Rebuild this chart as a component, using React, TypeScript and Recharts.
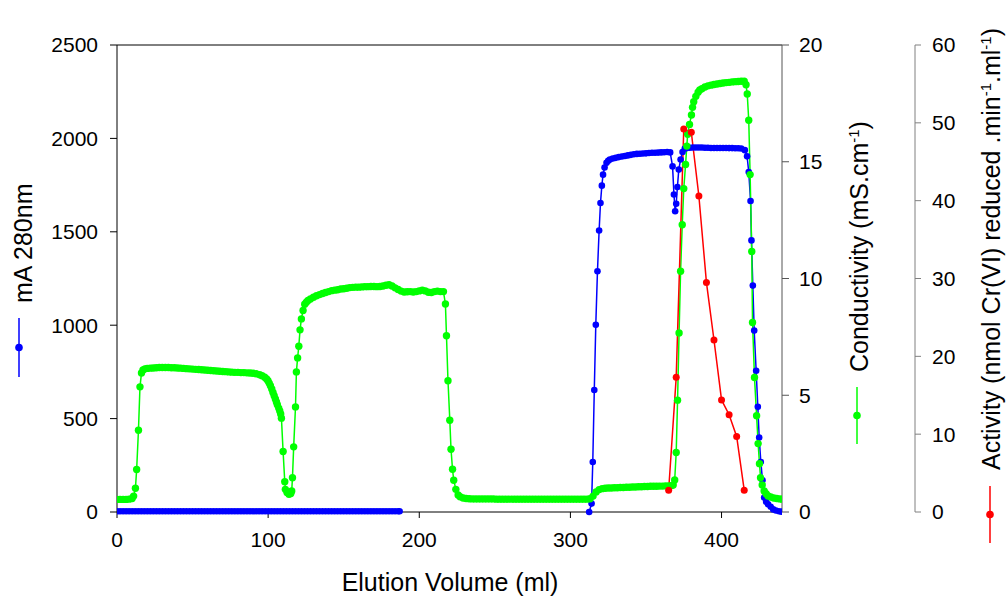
import { ComposedChart, Line, XAxis, YAxis, ReferenceLine } from "recharts";

const BLUE = "#0000ff";
const GREEN = "#00ff00";
const RED = "#ff0000";
const FONT = "'Liberation Sans', Arial, sans-serif";

// mA 280nm, first run (baseline)
const uvVolumeA = [
   0, 2, 4, 6, 8, 10, 12, 14, 16, 18, 20, 22, 24, 26, 28, 30, 32, 34, 36, 38,
   40, 42, 44, 46, 48, 50, 52, 54, 56, 58, 60, 62, 64, 66, 68, 70, 72, 74, 76, 78,
   80, 82, 84, 86, 88, 90, 92, 94, 96, 98, 100, 102, 104, 106, 108, 110, 112, 114, 116, 118,
   120, 122, 124, 126, 128, 130, 132, 134, 136, 138, 140, 142, 144, 146, 148, 150, 152, 154, 156, 158,
   160, 162, 164, 166, 168, 170, 172, 174, 176, 178, 180, 182, 184, 186, 187,
];
const uvAbsA = [
   4, 4, 4, 4, 4, 4, 4, 4, 4, 4, 4, 4, 4, 4, 4, 4, 4, 4, 4, 4,
   4, 4, 4, 4, 4, 4, 4, 4, 4, 4, 4, 4, 4, 4, 4, 4, 4, 4, 4, 4,
   4, 4, 4, 4, 4, 4, 4, 4, 4, 4, 4, 4, 4, 4, 4, 4, 4, 4, 4, 4,
   4, 4, 4, 4, 4, 4, 4, 4, 4, 4, 4, 4, 4, 4, 4, 4, 4, 4, 4, 4,
   4, 4, 4, 4, 4, 4, 4, 4, 4, 4, 4, 4, 4, 4, 4,
];

// mA 280nm, second run
const uvVolumeB = [
   312.4, 314, 314.8, 315.8, 316.8, 317.9, 319, 319.9, 320.8, 321.6, 322.6, 323.9, 325, 326.1, 328, 330, 332, 334, 336, 338,
   340, 342, 344, 346, 348, 350, 352, 354, 356, 358, 360, 362, 364, 366, 367.6, 368.5, 369.3, 370, 370.8, 371.7,
   372.9, 374.2, 375.7, 377, 379, 381, 383, 385, 387, 389, 391, 393, 395, 397, 399, 401, 403, 405, 407, 409,
   411, 413, 415.4, 416.9, 418, 419.2, 419.8, 420.7, 421.6, 422.9, 424, 424.9, 426, 427.1, 428.2, 429.5, 430.8, 432.5, 434.2, 436,
   438, 439.7,
];
const uvAbsB = [
   0, 45, 268, 653, 1002, 1289, 1507, 1654, 1747, 1806, 1844, 1869, 1880, 1887, 1892, 1896, 1900, 1903, 1906, 1909,
   1912, 1915, 1917, 1918, 1919, 1920, 1922, 1923, 1923, 1924, 1925, 1926, 1927, 1925, 1850, 1700, 1610, 1650, 1740, 1833,
   1887, 1927, 1946, 1948, 1950, 1951, 1951, 1951, 1951, 1950, 1950, 1949, 1949, 1949, 1949, 1949, 1949, 1948, 1948, 1947,
   1947, 1946, 1937, 1904, 1820, 1665, 1454, 1212, 971, 756, 563, 399, 268, 170, 77, 55, 41, 28, 14, 8,
   4, 2,
];

// Conductivity (mS/cm)
const condVolume = [
   0, 2, 4, 6, 8, 10, 11, 12.2, 13, 14.2, 15.2, 16.2, 17.2, 18.5, 20, 22, 24, 26, 28, 30,
   32, 34, 36, 38, 40, 42, 44, 46, 48, 50, 52, 54, 56, 58, 60, 62, 64, 66, 68, 70,
   72, 74, 76, 78, 80, 82, 84, 86, 88, 90, 92, 94.4, 96, 97.7, 99, 99.9, 100.7, 101.5, 102.4, 103.2,
   104, 104.8, 105.5, 106.1, 107, 107.7, 108.3, 108.8, 109.9, 111, 111.4, 112.5, 113.8, 115, 115.6, 116.1, 116.9, 118.1, 118.7, 119.5,
   120.3, 121.1, 122, 123.1, 124.2, 125.3, 126.4, 128, 130, 132, 134, 136, 138, 140, 142, 144, 146, 148, 150, 152,
   154, 156, 158, 160, 162, 164, 166, 168, 170, 172, 174, 176, 178, 180, 182, 184, 186, 188, 190, 192,
   194, 196, 198, 200, 202, 204, 206, 208, 210, 212, 214, 216, 217.3, 218, 219, 220.2, 221, 222, 222.8, 224.2,
   225.7, 227, 229, 231, 233, 235, 237, 239, 241, 243, 245, 247, 249, 251, 253, 255, 257, 259, 261, 263,
   265, 267, 269, 271, 273, 275, 277, 279, 281, 283, 285, 287, 289, 291, 293, 295, 297, 299, 301, 303,
   305, 307, 309, 311, 313, 315, 317, 319, 321, 323, 325, 327, 329, 331, 333, 335, 337, 339, 341, 343,
   345, 347, 349, 351, 353, 355, 357, 359, 361, 363, 365, 367, 368, 369, 370, 370.9, 371.9, 372.9, 374, 375,
   376.2, 377, 377.6, 378.8, 380.1, 380.8, 381.6, 383, 384.5, 385.6, 387, 389, 391, 393, 395, 397, 399, 401, 403, 405,
   407, 409, 411, 413, 415, 416.2, 417, 418, 418.9, 420, 420.5, 421.8, 423.2, 424.2, 425.1, 425.8, 426.9, 428.2, 429.5, 430.8,
   432.5, 434.5, 436.5, 438.5, 440,
];
const condValue = [
   0.54, 0.54, 0.54, 0.54, 0.55, 0.58, 0.68, 1.02, 1.82, 3.5, 5.36, 5.95, 6.08, 6.13, 6.15, 6.16, 6.17, 6.18, 6.19, 6.19,
   6.19, 6.19, 6.18, 6.18, 6.17, 6.16, 6.15, 6.14, 6.13, 6.12, 6.11, 6.1, 6.09, 6.08, 6.07, 6.06, 6.05, 6.04, 6.03, 6.02,
   6.01, 6.0, 5.99, 5.98, 5.98, 5.97, 5.97, 5.96, 5.95, 5.94, 5.92, 5.88, 5.84, 5.77, 5.7, 5.62, 5.52, 5.41, 5.27, 5.12,
   4.98, 4.84, 4.71, 4.59, 4.45, 4.33, 4.2, 4.02, 2.59, 1.3, 0.97, 0.83, 0.76, 0.79, 0.9, 1.47, 2.79, 4.5, 6.0, 6.6,
   7.1, 7.8, 8.27, 8.63, 8.9, 8.98, 9.06, 9.12, 9.2, 9.26, 9.31, 9.36, 9.4, 9.44, 9.48, 9.5, 9.52, 9.55, 9.56, 9.58,
   9.61, 9.62, 9.63, 9.63, 9.64, 9.65, 9.65, 9.66, 9.66, 9.65, 9.66, 9.68, 9.71, 9.73, 9.68, 9.6, 9.53, 9.46, 9.42, 9.43,
   9.44, 9.42, 9.44, 9.47, 9.5, 9.47, 9.41, 9.4, 9.44, 9.46, 9.44, 9.44, 8.91, 7.55, 5.62, 3.93, 2.69, 1.83, 1.36, 0.97,
   0.73, 0.65, 0.6, 0.58, 0.57, 0.56, 0.56, 0.56, 0.56, 0.56, 0.56, 0.56, 0.56, 0.55, 0.55, 0.55, 0.55, 0.55, 0.55, 0.55,
   0.55, 0.55, 0.55, 0.55, 0.55, 0.55, 0.55, 0.55, 0.55, 0.55, 0.55, 0.55, 0.55, 0.55, 0.55, 0.55, 0.55, 0.55, 0.55, 0.55,
   0.55, 0.55, 0.55, 0.55, 0.57, 0.68, 0.86, 0.96, 1.0, 1.02, 1.03, 1.03, 1.04, 1.04, 1.05, 1.05, 1.06, 1.06, 1.07, 1.07,
   1.08, 1.08, 1.09, 1.09, 1.1, 1.1, 1.1, 1.11, 1.11, 1.12, 1.12, 1.13, 1.16, 1.37, 2.55, 4.79, 7.67, 10.31, 12.3, 13.85,
   14.88, 15.67, 16.18, 16.6, 17.0, 17.33, 17.57, 17.8, 17.98, 18.07, 18.13, 18.2, 18.25, 18.28, 18.31, 18.33, 18.35, 18.37, 18.39, 18.4,
   18.42, 18.43, 18.44, 18.45, 18.45, 18.3, 17.9, 16.78, 14.45, 11.16, 8.12, 5.76, 4.12, 2.93, 2.07, 1.47, 1.16, 0.9, 0.78, 0.69,
   0.64, 0.6, 0.58, 0.56, 0.55,
];

// Activity (nmol Cr(VI) reduced /min/ml)
const actVolume = [365, 370, 375, 380, 385, 390, 395, 400, 405, 410, 415];
const actValue = [2.8, 17.3, 49.2, 48.8, 40.6, 29.5, 22.1, 14.4, 12.5, 9.7, 2.8];

const volumeTicks = [0, 100, 200, 300, 400];
const absTicks = [0, 500, 1000, 1500, 2000, 2500];
const condTicks = [0, 5, 10, 15, 20];
const actTicks = [0, 10, 20, 30, 40, 50, 60];

const toPoints = (xs: number[], ys: number[]) => xs.map((x, i) => ({ x, y: ys[i] }));

const uvDataA = toPoints(uvVolumeA, uvAbsA);
const uvDataB = toPoints(uvVolumeB, uvAbsB);
const condData = toPoints(condVolume, condValue);
const actData = toPoints(actVolume, actValue);

const tickStyle = { fill: "#000", fontSize: 21, fontFamily: FONT };

const XTitle = () => (
   <text x={450} y={591} textAnchor="middle" fontSize={25} fontFamily={FONT} fill="#000">
      Elution Volume (ml)
   </text>
);

const Marker = ({ x, y1, y2, color }: { x: number; y1: number; y2: number; color: string }) => (
   <g>
      <line x1={x} y1={y1} x2={x} y2={y2} stroke={color} strokeWidth={1.5} />
      <circle cx={x} cy={(y1 + y2) / 2} r={3.8} fill={color} />
   </g>
);

const AbsTitle = () => (
   <g>
      <text transform="translate(32,303) rotate(-90)" fontSize={25} fontFamily={FONT} fill="#000">
         mA 280nm
      </text>
      <Marker x={19} y1={318} y2={377} color={BLUE} />
   </g>
);

const CondTitle = () => (
   <g>
      <text transform="translate(868,372) rotate(-90)" fontSize={25} fontFamily={FONT} fill="#000">
         Conductivity (mS.cm
         <tspan dy={-9} fontSize={15}>-1</tspan>
         <tspan dy={9}>)</tspan>
      </text>
      <Marker x={857} y1={387} y2={444} color={GREEN} />
   </g>
);

const ActTitle = () => (
   <g>
      <text transform="translate(1000,470) rotate(-90)" fontSize={25} fontFamily={FONT} fill="#000">
         Activity (nmol Cr(VI) reduced .min
         <tspan dy={-9} fontSize={15}>-1</tspan>
         <tspan dy={9}>.ml</tspan>
         <tspan dy={-9} fontSize={15}>-1</tspan>
         <tspan dy={9}>)</tspan>
      </text>
      <Marker x={990} y1={486} y2={543} color={RED} />
   </g>
);

const App = () => {
   return (
      <div style={{ position: "absolute", left: 0, top: 0, background: "#fff" }}>
         <ComposedChart width={1007} height={598} margin={{ top: 45, right: 0, bottom: 0, left: 0 }} style={{ fontFamily: FONT }}>
            <XAxis
               dataKey="x"
               type="number"
               domain={[0, 440]}
               ticks={volumeTicks}
               height={86}
               tickSize={6}
               tickMargin={14}
               tick={tickStyle}
               axisLine={{ stroke: "#000" }}
               tickLine={{ stroke: "#000" }}
               allowDataOverflow
               label={<XTitle />}
            />
            <YAxis
               yAxisId="left"
               width={117}
               domain={[0, 2500]}
               ticks={absTicks}
               tickSize={7}
               tickMargin={12}
               tick={tickStyle}
               axisLine={{ stroke: "#000" }}
               tickLine={{ stroke: "#000" }}
               label={<AbsTitle />}
            />
            {/* right axes are laid out by id order: r1 next to the plot, r2 outside */}
            <YAxis
               yAxisId="r1"
               orientation="right"
               width={133}
               domain={[0, 20]}
               ticks={condTicks}
               tickSize={7}
               tickMargin={10}
               tick={tickStyle}
               axisLine={{ stroke: "#555" }}
               tickLine={{ stroke: "#555" }}
               label={<CondTitle />}
            />
            <YAxis
               yAxisId="r2"
               orientation="right"
               width={92}
               domain={[0, 60]}
               ticks={actTicks}
               tickSize={6}
               tickMargin={11}
               tick={tickStyle}
               axisLine={{ stroke: "#808080" }}
               tickLine={{ stroke: "#808080" }}
               label={<ActTitle />}
            />
            <ReferenceLine yAxisId="left" y={2500} stroke="#000" strokeWidth={1} />
            <Line
               yAxisId="left"
               data={uvDataA}
               dataKey="y"
               stroke={BLUE}
               strokeWidth={1.5}
               dot={{ r: 3.3, fill: BLUE, stroke: "none" }}
               activeDot={false}
               isAnimationActive={false}
            />
            <Line
               yAxisId="left"
               data={uvDataB}
               dataKey="y"
               stroke={BLUE}
               strokeWidth={1.5}
               dot={{ r: 3.3, fill: BLUE, stroke: "none" }}
               activeDot={false}
               isAnimationActive={false}
            />
            <Line
               yAxisId="r1"
               data={condData}
               dataKey="y"
               stroke={GREEN}
               strokeWidth={1.5}
               dot={{ r: 3.7, fill: GREEN, stroke: "none" }}
               activeDot={false}
               isAnimationActive={false}
            />
            <Line
               yAxisId="r2"
               data={actData}
               dataKey="y"
               stroke={RED}
               strokeWidth={1.5}
               dot={{ r: 3.5, fill: RED, stroke: "none" }}
               activeDot={false}
               isAnimationActive={false}
            />
         </ComposedChart>
      </div>
   );
};

export default App;
